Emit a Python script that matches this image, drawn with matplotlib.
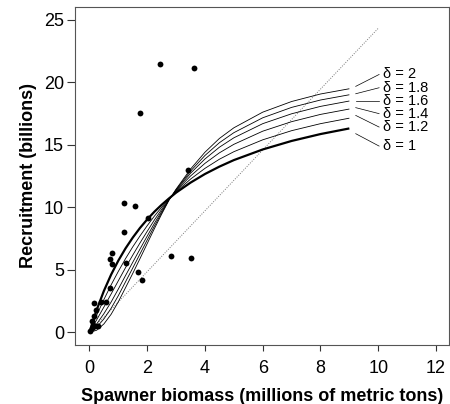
import matplotlib
matplotlib.use("Agg")
import matplotlib.pyplot as plt

plt.rcParams['font.family'] = ['Liberation Sans', 'DejaVu Sans']

# observed stock-recruitment data (spawner biomass, recruitment)
obs_x = [2.46, 3.63, 1.74, 3.41, 1.19, 1.58, 2.04, 1.19, 0.77, 0.72, 0.77, 1.25,
         2.82, 3.51, 1.67, 1.82, 0.72, 0.40, 0.58, 0.16, 0.22, 0.17, 0.08, 0.14,
         0.03, 0.10, 0.20, 0.30]
obs_y = [21.47, 21.12, 17.56, 12.95, 10.34, 10.08, 9.18, 8.03, 6.38, 5.83, 5.51, 5.56,
         6.11, 5.93, 4.87, 4.23, 3.56, 2.44, 2.44, 2.36, 1.78, 1.35, 0.88, 0.60,
         0.15, 0.35, 0.50, 0.55]

# fitted curves for each delta
curve_x = [0, 0.25, 0.5, 0.75, 1, 1.25, 1.5, 1.75, 2, 2.25, 2.5, 2.75, 3, 3.5, 4,
           4.5, 5, 6, 7, 8, 9]
deltas = ["2", "1.8", "1.6", "1.4", "1.2", "1"]
curve_d2 = [0, 0.18, 0.68, 1.45, 2.45, 3.58, 4.72, 5.90, 7.10, 8.30, 9.45, 10.55,
            11.45, 13.05, 14.40, 15.50, 16.35, 17.60, 18.45, 19.05, 19.47]
curve_d18 = [0, 0.42, 1.08, 1.93, 2.94, 4.05, 5.15, 6.27, 7.39, 8.50, 9.56, 10.57,
             11.41, 12.89, 14.14, 15.16, 15.96, 17.15, 17.98, 18.57, 18.99]
curve_d16 = [0, 0.68, 1.50, 2.43, 3.47, 4.55, 5.61, 6.66, 7.70, 8.72, 9.68, 10.60,
             11.36, 12.72, 13.86, 14.80, 15.55, 16.68, 17.47, 18.06, 18.49]
curve_d14 = [0, 1.01, 2.03, 3.07, 4.13, 5.18, 6.18, 7.15, 8.08, 8.99, 9.83, 10.63,
             11.31, 12.50, 13.51, 14.35, 15.03, 16.08, 16.84, 17.42, 17.85]
curve_d12 = [0, 1.38, 2.63, 3.80, 4.88, 5.90, 6.84, 7.71, 8.53, 9.30, 10.00, 10.66,
             11.24, 12.25, 13.11, 13.84, 14.44, 15.39, 16.12, 16.68, 17.12]
curve_d1 = [0, 1.80, 3.32, 4.62, 5.74, 6.72, 7.58, 8.35, 9.03, 9.65, 10.20, 10.70,
            11.17, 11.97, 12.66, 13.25, 13.77, 14.62, 15.30, 15.85, 16.30]
curves = [curve_d2, curve_d18, curve_d16, curve_d14, curve_d12, curve_d1]

# replacement (dotted) line
repl_x = [0, 10]
repl_y = [0, 24.3]

x_ticks = [0, 2, 4, 6, 8, 10, 12]
y_ticks = [0, 5, 10, 15, 20, 25]

fig = plt.figure(figsize=(4.5, 4.04), dpi=100)
ax = fig.add_axes([75/450, 1-345/404, (449-75)/450, (345-7)/404])

ax.plot(repl_x, repl_y, linestyle=(0, (1, 1.5)), color='#777777', linewidth=0.7)

for d, cy in zip(deltas, curves):
    lw = 1.6 if d == "1" else 0.6
    ax.plot(curve_x, cy, color='black', linewidth=lw, solid_capstyle='butt',
            solid_joinstyle='round')

ax.plot(obs_x, obs_y, 'o', color='black', markersize=4.2, markeredgewidth=0)

# labels with leader lines
lead_start = [19.66, 19.07, 18.52, 17.96, 17.34, 15.88]
lead_end = [20.61, 19.55, 18.52, 17.48, 16.41, 14.89]
for d, ys, ye in zip(deltas, lead_start, lead_end):
    ax.plot([9.22, 10.03], [ys, ye], color='black', linewidth=0.5)
    ax.text(10.15, ye, "\u03b4 = " + d, fontsize=10.5, va='center', ha='left')

ax.set_xlim(-0.5, 12.45)
ax.set_ylim(-1.0, 26.0)
ax.set_xticks(x_ticks)
ax.set_yticks(y_ticks)
ax.tick_params(axis='both', labelsize=13, direction='out', width=0.8, color='#333333')
ax.tick_params(axis='y', length=6, pad=2)
ax.tick_params(axis='x', length=4, pad=7)
for s in ax.spines.values():
    s.set_linewidth(0.8)
    s.set_color('#555555')

ax.set_xlabel("Spawner biomass (millions of metric tons)", fontsize=13,
              fontweight='bold', labelpad=8)
ax.set_ylabel("Recruitment (billions)", fontsize=13, fontweight='bold', labelpad=5)

fig.savefig("out.png", dpi=100)
